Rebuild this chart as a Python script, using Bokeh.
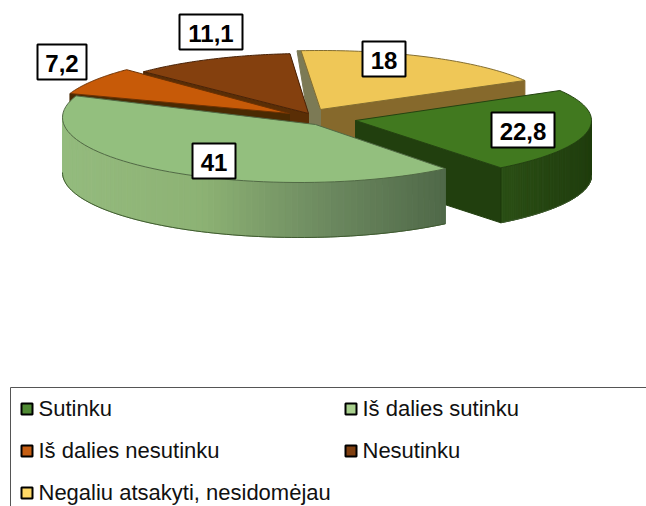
import math
from bokeh.plotting import figure
from bokeh.models import Range1d
from bokeh.core.properties import value
from bokeh.embed import file_html
from bokeh.resources import INLINE

categories = ["Sutinku", "Iš dalies sutinku", "Iš dalies nesutinku", "Nesutinku", "Negaliu atsakyti, nesidomėjau"]
values = [22.8, 41, 7.2, 11.1, 18]
top_colors = ["#41791f", "#93bf7e", "#c75a08", "#84400e", "#efc757"]
legend_colors = ["#4f8a33", "#a9d08e", "#c65f14", "#7f3f10", "#ffd966"]
cut_colors = ["#213f0e", "#5b7750", "#4a2a02", "#5a2e06", "#86692c"]

W, H = 646, 506
START = -30.0
RX, DEPTH = 236.0, 55.0
# layout: arc centre, wedge tip and vertical radius of each exploded slice
centres = [(355, 120, 60), (299, 117, 65), (292, 114, 63), (309, 116, 63), (320, 110, 60)]
tips = [(355, 120), (315, 124), (289, 113), (308, 113), (320, 109)]
label_boxes = [(491, 112, 554, 147), (192, 143, 235, 178), (37, 44, 86, 79), (179, 14, 242, 49), (362, 41, 405, 76)]
legend_pos = [(21, 408), (345, 408), (21, 450), (345, 450), (21, 492)]

p = figure(width=W, height=H, output_backend="svg", toolbar_location=None,
           x_range=Range1d(0, W), y_range=Range1d(H, 0), min_border=0,
           outline_line_color=None, background_fill_color="white", border_fill_color="white")
p.xaxis.visible = False
p.yaxis.visible = False
p.xgrid.visible = False
p.ygrid.visible = False


def arc(i, a0, a1, n=60):
    cx, cy, ry = centres[i]
    r = RX + (1 if i == 1 else 0)
    pts = []
    for k in range(n + 1):
        t = math.radians(a0 + (a1 - a0) * k / n)
        pts.append((cx + r * math.cos(t), cy + ry * math.sin(t)))
    return pts


def mix(c1, c2, f):
    a = [int(c1[j:j + 2], 16) for j in (1, 3, 5)]
    b = [int(c2[j:j + 2], 16) for j in (1, 3, 5)]
    return "#%02x%02x%02x" % tuple(round(u + (v - u) * f) for u, v in zip(a, b))


def wall_colour(x):
    stops = [(60, "#94bb7e"), (200, "#8db274"), (323, "#6d8a60"), (447, "#4f6848")]
    for (x0, c0), (x1, c1) in zip(stops, stops[1:]):
        if x <= x1:
            return mix(c0, c1, max(0, (x - x0) / (x1 - x0)))
    return stops[-1][1]


spans = []
a = START
for v in values:
    b = a + v / sum(values) * 360
    spans.append((a, b))
    a = b

for i in [4, 3, 2, 0, 1]:
    a0, a1 = spans[i]
    tip = tips[i]
    rim = arc(i, a0, a1)
    # cut faces of the wedge, seen from the front
    if i in (0, 2, 3, 4):
        e = rim[-1] if i == 0 else rim[0]
        if i == 4:
            e = rim[-1]
        xs = [tip[0], e[0], e[0], tip[0]]
        ys = [tip[1], e[1], e[1] + DEPTH, tip[1] + DEPTH]
        p.patch(xs, ys, fill_color=cut_colors[i], line_color=cut_colors[i], line_width=1)
    if i == 4:
        e = rim[0]
        p.patch([e[0], e[0] - 4, tip[0] - 13, tip[0] - 13, tip[0], tip[0]],
                [e[1], e[1], tip[1] + 5, tip[1] + 22, tip[1] + 28, tip[1]],
                fill_color="#7c7a55", line_color="#7c7a55")
    if i == 3:
        e = rim[-1]
        p.patch([e[0], e[0] - 5, tip[0] - 6, tip[0]], [e[1], e[1] + 1, tip[1] - 3, tip[1]],
                fill_color="#a34c10", line_color=None)
    # outer wall
    fr0, fr1 = max(a0, 0), min(a1, 180)
    if fr1 > fr0 and i in (0, 1):
        wall = arc(i, fr0, fr1, 80)
        for (x0, y0), (x1, y1) in zip(wall, wall[1:]):
            c = wall_colour((x0 + x1) / 2) if i == 1 else mix("#2b4f15", "#203d0e", abs((x0 - 500) / 91))
            p.patch([x0, x1, x1, x0], [y0, y1, y1 + DEPTH, y0 + DEPTH], fill_color=c, line_color=c, line_width=1)
        p.line([q[0] for q in wall], [q[1] + DEPTH for q in wall], line_color="#3f5a30", line_width=1)
        if i == 0:
            p.line([wall[-1][0]] * 2, [wall[-1][1], wall[-1][1] + DEPTH], line_color="#1a3209", line_width=1)
    # top surface
    xs = [tip[0]] + [q[0] for q in rim]
    ys = [tip[1]] + [q[1] for q in rim]
    p.patch(xs, ys, fill_color=top_colors[i], line_color=mix(top_colors[i], "#000000", 0.45), line_width=1)

# value labels
lx0, ly0, lx1, ly1 = zip(*label_boxes)
p.quad(left=list(lx0), right=list(lx1), top=list(ly0), bottom=list(ly1),
       fill_color="white", line_color="black", line_width=2)
p.text([(u + w) / 2 for u, w in zip(lx0, lx1)], [(u + w) / 2 + 1 for u, w in zip(ly0, ly1)],
       text=[f"{v}".replace(".", ",") for v in values],
       text_font=value("Liberation Sans"), text_font_style="bold", text_font_size="24px",
       text_align="center", text_baseline="middle", text_color="black")

# legend frame
p.line([10, 10], [H, 387], line_color="#555555", line_width=1)
p.line([10, W], [387, 387], line_color="#555555", line_width=1)
for (x, y), c, name in zip(legend_pos, legend_colors, categories):
    p.quad(left=[x], right=[x + 11], top=[y - 5], bottom=[y + 6], fill_color=c, line_color="black", line_width=2)
    p.text([x + 17], [y], text=[name], text_font=value("Liberation Sans"), text_font_size="22px",
           text_align="left", text_baseline="middle", text_color="#111111")

open("out.html", "w").write(file_html(p, INLINE))
